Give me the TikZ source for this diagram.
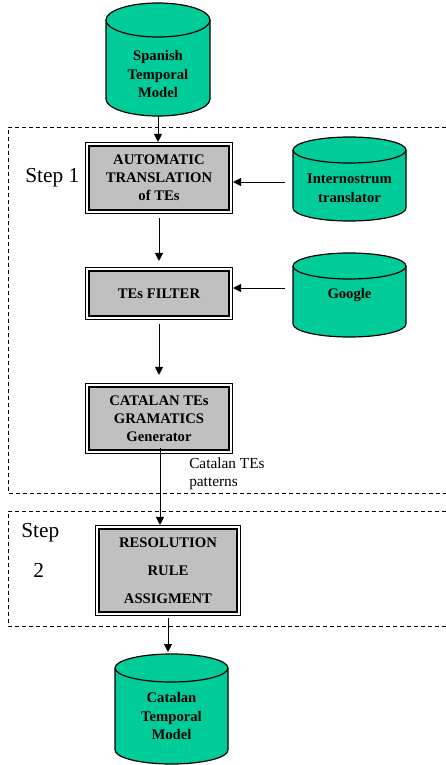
\documentclass[tikz,border=0pt]{standalone}
\usepackage{fontspec}
\setmainfont{Liberation Serif}
\usetikzlibrary{arrows.meta,fit}
\definecolor{drumgreen}{RGB}{0,204,153}
\definecolor{boxgray}{RGB}{192,192,192}
% database drum: #1 name, #2 centre x, #3 top, #4 bottom, #5 x radius, #6 y radius
\newcommand\drum[6]{%
  \path[drumfill] (#2-#5,#3+#6) -- (#2-#5,#4-#6)
    arc[start angle=180,end angle=0,x radius=#5,y radius=#6]
    -- (#2+#5,#3+#6)
    arc[start angle=0,end angle=-180,x radius=#5,y radius=#6] -- cycle;
  \draw[drumline] (#2-#5,#3+#6) arc[start angle=180,end angle=0,x radius=#5,y radius=#6];
  \coordinate (#1-nw) at (#2-#5,#3);
  \coordinate (#1-se) at (#2+#5,#4);
  \node[fit=(#1-nw)(#1-se), inner sep=0pt, outer sep=0pt] (#1) {};
}
\begin{document}
\begin{tikzpicture}[x=0.75pt,y=-0.75pt,
  drumfill/.style={fill=drumgreen, draw=black, line width=0.9pt},
  drumline/.style={draw=black, line width=0.9pt},
  drumtext/.style={font=\fontsize{11}{14}\selectfont\bfseries, align=center, inner sep=0pt},
  stepbox/.style={draw=black, line width=1.5pt, fill=boxgray,
    font=\fontsize{11}{13.5}\selectfont\bfseries, align=center,
    minimum width=105pt, inner sep=0pt},
  stepframe/.style={draw=black, line width=0.75pt, inner sep=1.9pt},
  region/.style={dash pattern=on 3pt off 2.25pt, line width=0.75pt},
  steplabel/.style={font=\fontsize{16}{19}\selectfont, inner sep=0pt},
  flowlabel/.style={font=\fontsize{11.5}{13.5}\selectfont, align=left, inner sep=0pt},
  arr/.style={-{Triangle[length=6pt,width=6pt]}, line width=0.75pt}]

\useasboundingbox (0,0) rectangle (446,765);

% dashed step regions (open on the right)
\draw[region] (446,127) -- (8,127) -- (8,493) -- (446,493);
\draw[region] (446,511) -- (8,511) -- (8,626) -- (446,626);

\node[steplabel, anchor=base west] (step1) at (25,182) {Step 1};
\node[steplabel, anchor=base west] (step2a) at (21,537) {Step};
\node[steplabel, anchor=base west] (step2b) at (33,577) {2};

% data stores
\drum{spanish}{158}{3}{116}{52}{17}
\node[drumtext] (spanishtxt) at (158,74) {Spanish\\Temporal\\Model};

\drum{intern}{349.5}{137}{221}{56.5}{13}
\node[drumtext] (interntxt) at (349.5,188) {Internostrum\\translator};

\drum{google}{349.5}{253}{337}{56.5}{13}
\node[drumtext] (googletxt) at (349.5,295) {Google};

\drum{catalan}{171.5}{654}{764}{56.5}{14}
\node[drumtext] (catalantxt) at (171.5,716) {Catalan\\Temporal\\Model};

% processing steps
\node[stepbox, minimum height=48pt] (b1) at (159,178) {AUTOMATIC\\TRANSLATION\\of TEs};
\node[stepframe, fit=(b1)] (b1f) {};

\node[stepbox, minimum height=33.75pt] (b2) at (159,293.5) {TEs FILTER};
\node[stepframe, fit=(b2)] (b2f) {};

\node[stepbox, minimum height=47.25pt] (b3) at (159,418.5) {CATALAN TEs\\GRAMATICS\\Generator};
\node[stepframe, fit=(b3)] (b3f) {};

\node[stepbox, minimum height=62.25pt, minimum width=103.5pt,
      font=\fontsize{11}{21}\selectfont\bfseries] (b4) at (168,570.5) {RESOLUTION\\RULE\\ASSIGMENT};
\node[stepframe, fit=(b4)] (b4f) {};

\node[flowlabel, anchor=north west] (patterns) at (189,458) {Catalan TEs\\patterns};

% connectors
\coordinate (gen) at (160,448);
\draw[arr] (spanish.south) -- (spanish.south |- b1f.north);
\draw[arr, shorten <=6pt] (intern.west |- 0,182) -- (b1f.east |- 0,182);
\draw[arr, shorten <=3pt, shorten >=4.5pt] (b1f.south) -- (b2f.north);
\draw[arr, shorten <=6pt] (google.west |- 0,288) -- (b2f.east |- 0,288);
\draw[arr, shorten <=3pt, shorten >=6pt] (b2f.south) -- (b3f.north);
\draw[arr] (gen) -- (gen |- b4f.north);
\draw[arr, shorten <=1.5pt, shorten >=1.5pt] (b4f.south) -- (b4f.south |- catalan.north);
\end{tikzpicture}
\end{document}
